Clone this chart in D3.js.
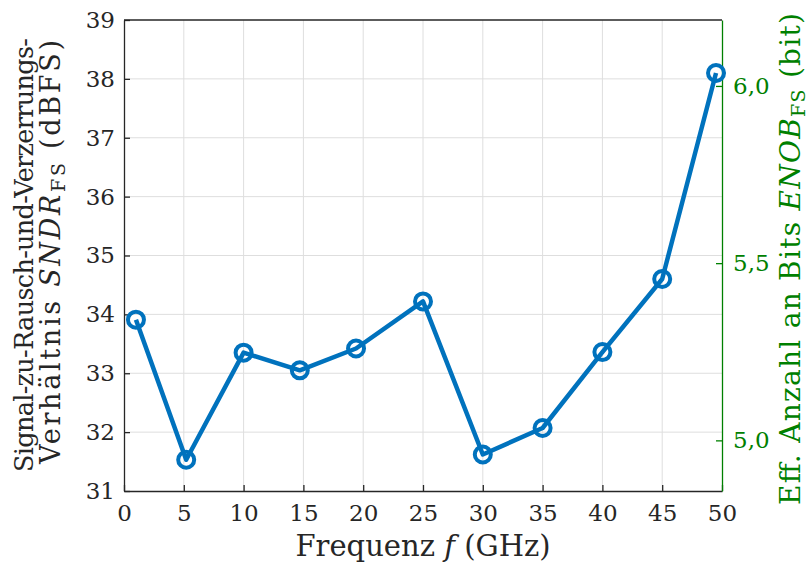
<!DOCTYPE html>
<html>
<head>
<meta charset="utf-8">
<script src="https://cdn.jsdelivr.net/npm/d3@7"></script>
<style>
  html, body { margin: 0; padding: 0; background: #fff; }
</style>
</head>
<body>
<svg id="chart" width="810" height="576"></svg>
<script>
// Measured SNDR over input frequency
const freqGHz = [1, 5.2, 10, 14.7, 19.4, 25, 30, 35, 40, 45, 49.5];
const sndrDBFS = [33.91, 31.53, 33.35, 33.05, 33.42, 34.22, 31.62, 32.07, 33.36, 34.60, 38.10];

const xTicks = [0, 5, 10, 15, 20, 25, 30, 35, 40, 45, 50];
const yTicks = [31, 32, 33, 34, 35, 36, 37, 38, 39];
const enobTicks = [5.0, 5.5, 6.0];

const W = 810, H = 576;
const m = { left: 124, right: 88, top: 20, bottom: 85 };
const pw = W - m.left - m.right, ph = H - m.top - m.bottom;
const FONT = "'DejaVu Serif', serif";

const svg = d3.select("#chart");
const g = svg.append("g").attr("transform", `translate(${m.left},${m.top})`);

const x = d3.scaleLinear().domain([0, 50]).range([0, pw]);
const y = d3.scaleLinear().domain([31, 39]).range([ph, 0]);
// ENOB = (SNDR - 1.76) / 6.02, drawn on the right against the same pixel range
const yEnob = d3.scaleLinear()
  .domain([(31 - 1.76) / 6.02, (39 - 1.76) / 6.02])
  .range([ph, 0]);

const green = "#008000";
const blue = "#0072BD";
const ink = "#262626";

// grid
g.append("g").selectAll("line").data(xTicks.slice(1, -1)).join("line")
  .attr("x1", d => x(d)).attr("x2", d => x(d)).attr("y1", 0).attr("y2", ph)
  .attr("stroke", "#dedede").attr("stroke-width", 1);
g.append("g").selectAll("line").data(yTicks.slice(1, -1)).join("line")
  .attr("y1", d => y(d)).attr("y2", d => y(d)).attr("x1", 0).attr("x2", pw)
  .attr("stroke", "#dedede").attr("stroke-width", 1);

// axes
const fmtInt = d3.format("d");
const xAxis = g.append("g").attr("transform", `translate(0,${ph})`)
  .call(d3.axisBottom(x).tickValues(xTicks).tickFormat(fmtInt).tickSizeInner(-6).tickSizeOuter(0).tickPadding(14));
const yAxis = g.append("g")
  .call(d3.axisLeft(y).tickValues(yTicks).tickFormat(fmtInt).tickSizeInner(-6).tickSizeOuter(0).tickPadding(9));
const fmtComma = d => d.toFixed(1).replace(".", ",");
const rAxis = g.append("g").attr("transform", `translate(${pw},0)`)
  .call(d3.axisRight(yEnob).tickValues(enobTicks).tickFormat(fmtComma).tickSizeInner(-6).tickSizeOuter(0).tickPadding(11));

[xAxis, yAxis, rAxis].forEach(a => a.attr("font-family", FONT));
[xAxis, yAxis].forEach(a => {
  a.select(".domain").attr("stroke", ink).attr("stroke-width", 1.3);
  a.selectAll(".tick line").attr("stroke", ink).attr("stroke-width", 1.3);
  a.selectAll(".tick text").attr("fill", ink).attr("font-size", 23);
});
rAxis.select(".domain").attr("stroke", green).attr("stroke-width", 1.3);
rAxis.selectAll(".tick line").attr("stroke", green).attr("stroke-width", 1.3);
rAxis.selectAll(".tick text").attr("fill", green).attr("font-size", 23);

// top frame
g.append("line").attr("x1", 0).attr("x2", pw).attr("y1", 0).attr("y2", 0)
  .attr("stroke", ink).attr("stroke-width", 1.3);

// data line and markers
const pts = freqGHz.map((f, i) => [f, sndrDBFS[i]]);
g.append("path").datum(pts)
  .attr("d", d3.line().x(d => x(d[0])).y(d => y(d[1])))
  .attr("fill", "none").attr("stroke", blue).attr("stroke-width", 4.5)
  .attr("stroke-linejoin", "round");
g.append("g").selectAll("circle").data(pts).join("circle")
  .attr("cx", d => x(d[0])).attr("cy", d => y(d[1])).attr("r", 8)
  .attr("fill", "none").attr("stroke", blue).attr("stroke-width", 4);

// axis titles
const xt = svg.append("text").attr("x", m.left + pw / 2).attr("y", 556)
  .attr("font-family", FONT)
  .attr("text-anchor", "middle").attr("font-size", 29).attr("fill", ink);
xt.append("tspan").text("Frequenz ");
xt.append("tspan").attr("font-style", "italic").text("f");
xt.append("tspan").text(" (GHz)");

// left title, two lines, written bottom-up from a start point
svg.append("text").attr("transform", `translate(33,472) rotate(-90)`)
  .attr("font-family", FONT)
  .attr("text-anchor", "start").attr("font-size", 25.5).attr("fill", ink)
  .attr("textLength", 434).attr("lengthAdjust", "spacing")
  .text("Signal-zu-Rausch-und-Verzerrungs-");
const yl2 = svg.append("text").attr("transform", `translate(60,464) rotate(-90)`)
  .attr("font-family", FONT)
  .attr("text-anchor", "start").attr("font-size", 27).attr("fill", ink)
  .attr("textLength", 424).attr("lengthAdjust", "spacing");
yl2.append("tspan").text("Verhältnis ");
yl2.append("tspan").attr("font-style", "italic").text("SNDR");
yl2.append("tspan").attr("font-size", 19).attr("dy", 5).text("FS");
yl2.append("tspan").attr("dy", -5).text(" (dBFS)");

// right title (ENOB)
const rl = svg.append("text").attr("transform", `translate(800,505) rotate(-90)`)
  .attr("font-family", FONT)
  .attr("text-anchor", "start").attr("font-size", 28).attr("fill", green)
  .attr("textLength", 492).attr("lengthAdjust", "spacing");
rl.append("tspan").text("Eff. Anzahl an Bits ");
rl.append("tspan").attr("font-style", "italic").text("ENOB");
rl.append("tspan").attr("font-size", 19).attr("dy", 5).text("FS");
rl.append("tspan").attr("dy", -5).text(" (bit)");
</script>
</body>
</html>
